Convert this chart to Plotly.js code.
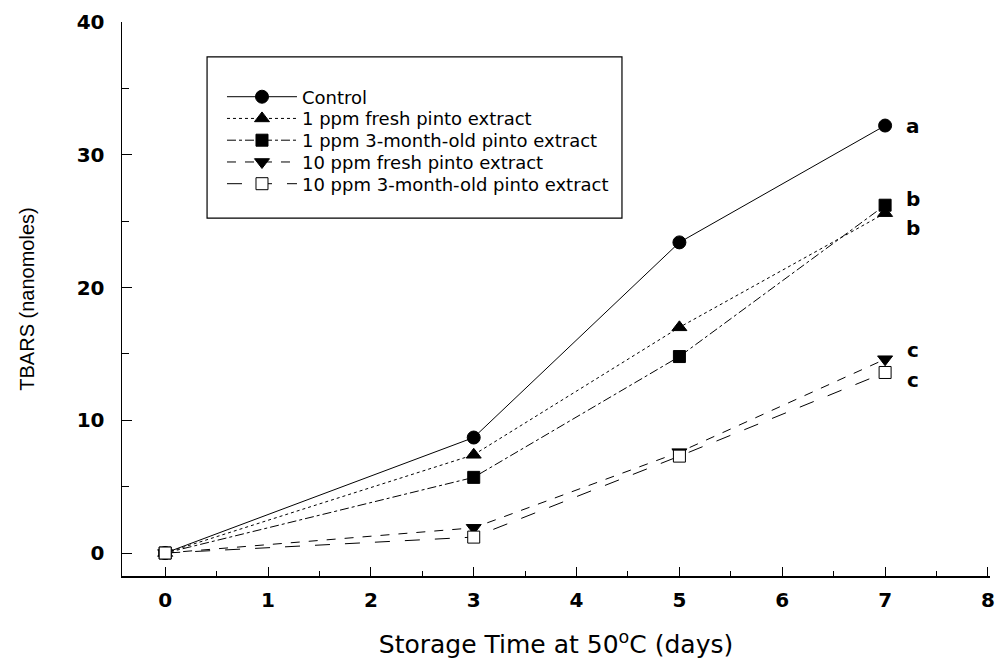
<!DOCTYPE html>
<html>
<head>
<meta charset="utf-8">
<script src="https://cdn.plot.ly/plotly-3.0.1.min.js"></script>
<style>html,body{margin:0;padding:0;background:#fff;}#chart{width:997px;height:659px;}</style>
</head>
<body>
<div id="chart"></div>
<script>
// Data
const days = [0, 3, 5, 7];
const seriesNames = [
  "Control",
  "1 ppm fresh pinto extract",
  "1 ppm 3-month-old pinto extract",
  "10 ppm fresh pinto extract",
  "10 ppm 3-month-old pinto extract"
];
const control = [0, 8.7, 23.4, 32.2];
const fresh1 = [0, 7.4, 17.0, 25.6];
const old1 = [0, 5.7, 14.8, 26.2];
const fresh10 = [0, 1.9, 7.6, 14.6];
const old10 = [0, 1.2, 7.3, 13.6];
const sigLetters = ["a", "b", "b", "c", "c"];
const sigLabelY = [32.2, 26.7, 24.5, 15.3, 13.0];

const values = [control, fresh1, old1, fresh10, old10];
const dashes = ["solid", "dot", "dashdot", "dash", "longdash"];
const symbols = ["circle", "triangle-up", "square", "triangle-down", "square"];
const fills = ["black", "black", "black", "black", "white"];
const sizes = [13, 13, 12, 13, 12];
const legendIds = ["legend", "legend2", "legend3", "legend4", "legend5"];
const legendRowY = [0.8646, 0.8254, 0.7861, 0.7468, 0.7076];

const FONT = "DejaVu Sans, Verdana, sans-serif";

const traces = values.map((v, i) => ({
  x: days,
  y: v,
  name: seriesNames[i],
  legend: legendIds[i],
  type: "scatter",
  mode: "lines+markers",
  line: {color: "black", width: 1, dash: dashes[i]},
  marker: {symbol: symbols[i], size: sizes[i], color: fills[i], line: {color: "black", width: 1}},
  cliponaxis: false
}));

const annotations = sigLetters.map((t, i) => ({
  x: 7, y: sigLabelY[i], xref: "x", yref: "y",
  text: t, showarrow: false, xshift: 28, xanchor: "center",
  font: {family: FONT, size: 20, weight: "bold", color: "black"}
}));

const layout = {
  width: 997, height: 659,
  margin: {l: 122, r: 7, t: 22, b: 83},
  paper_bgcolor: "white", plot_bgcolor: "white",
  font: {family: FONT, color: "black"},
  showlegend: true,
  xaxis: {
    range: [-0.42, 8.02],
    tickmode: "linear", tick0: 0, dtick: 1,
    ticks: "inside", ticklen: 9, tickwidth: 1, tickcolor: "black",
    minor: {dtick: 0.5, ticks: "inside", ticklen: 5, tickcolor: "black"},
    showline: true, linecolor: "black", linewidth: 2,
    showgrid: false, zeroline: false,
    tickfont: {family: FONT, size: 20, weight: "bold"},
    ticklabelstandoff: 5,
    title: {text: "Storage Time at 50<sup>o</sup>C (days)", font: {family: FONT, size: 25}, standoff: 25}
  },
  yaxis: {
    range: [-1.73, 40],
    tickmode: "linear", tick0: 0, dtick: 10,
    ticks: "inside", ticklen: 10, tickwidth: 1, tickcolor: "black",
    minor: {dtick: 5, ticks: "inside", ticklen: 7, tickcolor: "black"},
    showline: true, linecolor: "black", linewidth: 1.5,
    showgrid: false, zeroline: false,
    tickfont: {family: FONT, size: 20, weight: "bold"},
    ticklabelstandoff: 12,
    title: {text: "TBARS (nanomoles)", font: {family: "Liberation Sans, Arial, sans-serif", size: 20}, standoff: 36}
  },
  shapes: [{
    type: "rect", xref: "paper", yref: "paper",
    x0: 0.098, x1: 0.576, y0: 0.646, y1: 0.937,
    line: {color: "black", width: 1.2}, fillcolor: "rgba(0,0,0,0)"
  }],
  annotations: annotations
};

legendIds.forEach((id, i) => {
  layout[id] = {
    x: 0.1152, y: legendRowY[i], xanchor: "left", yanchor: "middle",
    bgcolor: "rgba(0,0,0,0)", borderwidth: 0,
    itemwidth: 70,
    font: {family: FONT, size: 18, color: "black"}
  };
});

Plotly.newPlot("chart", traces, layout, {displayModeBar: false, staticPlot: true});
</script>
</body>
</html>
